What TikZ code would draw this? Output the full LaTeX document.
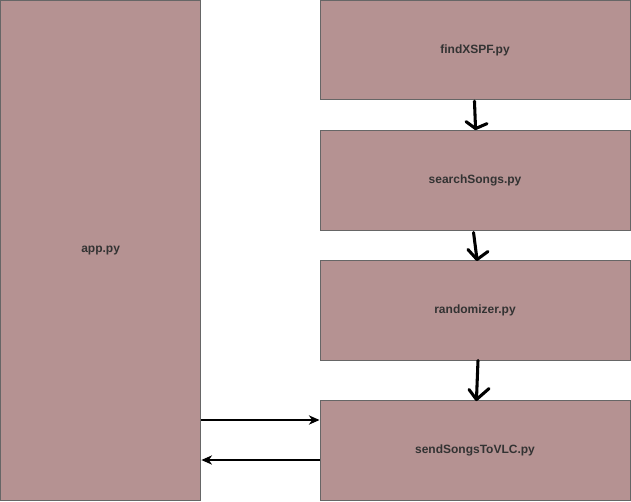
\documentclass[tikz,border=0pt]{standalone}
\usepackage{fontspec}
\setmainfont{Liberation Sans}
\usetikzlibrary{arrows.meta}
\definecolor{boxfill}{RGB}{181,146,146}
\definecolor{boxline}{RGB}{102,102,102}
\definecolor{txt}{RGB}{51,51,51}
\begin{document}
\begin{tikzpicture}[x=0.75pt,y=-0.75pt,
  box/.style={draw=boxline,fill=boxfill,line width=0.75pt,inner sep=0pt,
    text=txt,font=\fontsize{9}{11}\selectfont\bfseries},
  modbox/.style={box,minimum width=232.5pt,minimum height=75pt},
  hand/.style={line width=2.3pt,line cap=round,line join=round,black},
  thin/.style={line width=0.9pt,-{Stealth[length=8pt,width=7pt,inset=2.5pt]}}]
\useasboundingbox (0,0) rectangle (631,501);
\node[box,minimum width=150.4pt,minimum height=375.3pt] (app) at (100.65,250.6) {app.py};
\node[modbox,minimum height=74.6pt] (find) at (475,50.25) {findXSPF.py};
\node[modbox] (search) at (475,180) {searchSongs.py};
\node[modbox] (rand) at (475,310) {randomizer.py};
\node[modbox] (send) at (475,450) {sendSongsToVLC.py};
% hand drawn arrows
\path ([xshift=-0.4pt,yshift=-0.5pt]find.south) coordinate (a1s)
      ([xshift=0.4pt,yshift=0.7pt]search.north) coordinate (a1e);
\draw[hand] (a1s) -- (a1e);
\draw[hand] ([xshift=-7.1pt,yshift=5.2pt]a1e) -- (a1e) -- ([xshift=8.6pt,yshift=3.7pt]a1e);
\path ([xshift=-1.1pt,yshift=-1.5pt]search.south) coordinate (a2s)
      ([xshift=1.5pt]rand.north) coordinate (a2e);
\draw[hand] (a2s) -- (a2e);
\draw[hand] ([xshift=-6.8pt,yshift=7.5pt]a2e) -- (a2e) -- ([xshift=8.2pt,yshift=6pt]a2e);
\path ([xshift=2.25pt]rand.south) coordinate (a3s)
      ([xshift=1.1pt]send.north) coordinate (a3e);
\draw[hand] (a3s) -- (a3e);
\draw[hand] ([xshift=-5.6pt,yshift=7.5pt]a3e) -- (a3e) -- ([xshift=9.4pt,yshift=8.2pt]a3e);
% horizontal arrows
\path ([yshift=22.5pt]send.west) coordinate (r1e)
      ([yshift=-7.5pt]send.west) coordinate (r2s);
\draw[thin] (r1e -| app.east) -- (r1e);
\draw[thin] (r2s) -- (r2s -| app.east);
\end{tikzpicture}
\end{document}
